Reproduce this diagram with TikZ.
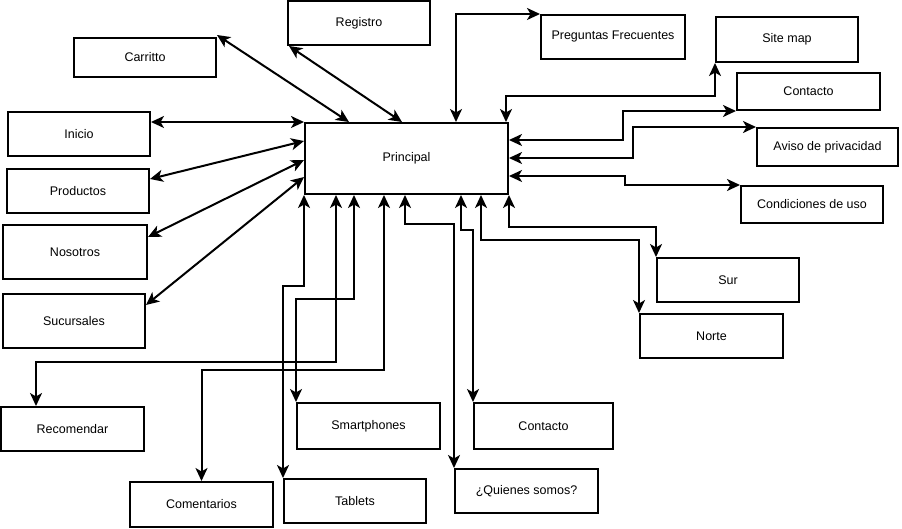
\documentclass[tikz,border=0pt]{standalone}
\usepackage{fontspec}
\setmainfont{Liberation Sans}
\usetikzlibrary{arrows.meta}
\begin{document}
\begin{tikzpicture}[x=1pt,y=-1pt,
  box/.style={draw=black,line width=2pt,fill=white,inner sep=0pt,font=\fontsize{12.5}{14}\selectfont},
  conn/.style={line width=2pt,{Stealth[length=13pt,width=12pt,inset=3.5pt]}-{Stealth[length=13pt,width=12pt,inset=3.5pt]}}]
\useasboundingbox (0,0) rectangle (902,529);
% nodes
\node[box,minimum width=203pt,minimum height=71pt] (P) at (406.5,158.5) {Principal};
\node[box,minimum width=142pt,minimum height=44pt] (Re) at (359,23) {Registro};
\node[box,minimum width=142pt,minimum height=39pt] (Ca) at (145,57.5) {Carritto};
\node[box,minimum width=144pt,minimum height=44pt] (PF) at (613,37) {Preguntas Frecuentes};
\node[box,minimum width=142pt,minimum height=45pt] (SM) at (787,39.5) {Site map};
\node[box,minimum width=143pt,minimum height=37pt] (CR) at (808.5,91.5) {Contacto};
\node[box,minimum width=141pt,minimum height=38pt] (AV) at (827.5,147) {Aviso de privacidad};
\node[box,minimum width=142pt,minimum height=37pt] (CO) at (812,204.5) {Condiciones de uso};
\node[box,minimum width=142pt,minimum height=44pt] (In) at (79,134) {Inicio};
\node[box,minimum width=142pt,minimum height=44pt] (Pr) at (78,191) {Productos};
\node[box,minimum width=144pt,minimum height=54pt] (No) at (75,252) {Nosotros};
\node[box,minimum width=142pt,minimum height=54pt] (Sc) at (74,321) {Sucursales};
\node[box,minimum width=143pt,minimum height=44pt] (Rc) at (72.5,429) {Recomendar};
\node[box,minimum width=143pt,minimum height=46pt] (Sp) at (368.5,426) {Smartphones};
\node[box,minimum width=143pt,minimum height=45pt] (Cm) at (201.5,504.5) {Comentarios};
\node[box,minimum width=142pt,minimum height=44pt] (Tb) at (355,501) {Tablets};
\node[box,minimum width=139pt,minimum height=46pt] (CB) at (543.5,426) {Contacto};
\node[box,minimum width=143pt,minimum height=44pt] (Qs) at (526.5,491) {¿Quienes somos?};
\node[box,minimum width=142pt,minimum height=44pt] (Su) at (728,280) {Sur};
\node[box,minimum width=143pt,minimum height=44pt] (Nt) at (711.5,336) {Norte};
% left connectors
\draw[conn] ([yshift=-11pt]In.north east) -- (P.north west);
\draw[conn] ([yshift=-11pt]Pr.north east) -- ([yshift=-19pt]P.north west);
\draw[conn] ([yshift=-13pt]No.north east) -- ([yshift=-38pt]P.north west);
\draw[conn] ([yshift=-12pt]Sc.north east) -- ([yshift=-55pt]P.north west);
\draw[conn] ([yshift=2pt]Ca.north east) -- ([xshift=45pt]P.north west);
\draw[conn] ([xshift=2pt]Re.south west) -- ([xshift=98pt]P.north west);
% top / right connectors
\draw[conn] ([xshift=152pt]P.north west) |- (PF.north west);
\draw[conn] ([xshift=-3pt]P.north east) -- ++(0,-26) -| (SM.south west);
\draw[conn] ([yshift=-18pt]P.north east) -- ++(114,0) |- (CR.south west);
\draw[conn] ([yshift=-36pt]P.north east) -- ++(124,0) |- (AV.north west);
\draw[conn] ([yshift=-54pt]P.north east) -- ++(116,0) |- (CO.north west);
% bottom connectors
\draw[conn] (P.south west) -- ++(0,91) -| (Tb.north west);
\draw[conn] ([xshift=32pt]P.south west) -- ++(0,167) -| ([xshift=36pt]Rc.north west);
\draw[conn] ([xshift=50pt]P.south west) -- ++(0,104) -| (Sp.north west);
\draw[conn] ([xshift=80pt]P.south west) -- ++(0,175) -| (Cm.north);
\draw[conn] ([xshift=101pt]P.south west) -- ++(0,29) -| (Qs.north west);
\draw[conn] ([xshift=157pt]P.south west) -- ++(0,35) -| (CB.north west);
\draw[conn] ([xshift=177pt]P.south west) -- ++(0,45) -| (Nt.north west);
\draw[conn] (P.south east) -- ++(0,32) -| (Su.north west);
\end{tikzpicture}
\end{document}
